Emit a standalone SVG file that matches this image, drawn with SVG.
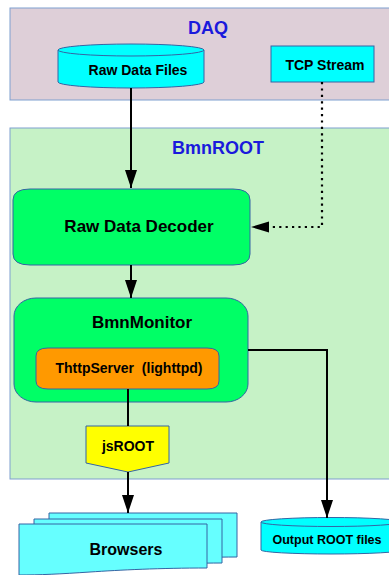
<svg xmlns="http://www.w3.org/2000/svg" width="389" height="575" viewBox="0 0 389 575">
<style>
text{font-family:"Liberation Sans",Arial,sans-serif;font-weight:bold;text-anchor:middle;dominant-baseline:central;fill:#000}
.title{fill:#1a1adc;font-size:18px}
.nb{stroke:#3465a4;stroke-width:1}
.ln{stroke:#000;stroke-width:2;fill:none}
.dot{stroke:#000;stroke-width:2.2;fill:none;stroke-dasharray:2.2 4.2}
</style>
<defs>
<marker id="ah" viewBox="0 0 18 12" refX="18" refY="6" markerWidth="18" markerHeight="12" markerUnits="userSpaceOnUse" orient="auto">
<path d="M0,0 L18,6 L0,12 Z" fill="#000"/>
</marker>
</defs>
<g id="daq">
<rect x="10" y="8" width="390" height="92" fill="#decfd8" stroke="#7f9fcf" stroke-width="1"/>
<text class="title" x="208" y="28">DAQ</text>
</g>
<g id="bmnroot">
<rect x="10" y="128" width="390" height="351" fill="#c6f2c6" stroke="#7f9fcf" stroke-width="1"/>
<text class="title" x="218" y="148">BmnROOT</text>
</g>
<g id="rawfiles">
<path class="nb" d="M58,50 V82 A73,6 0 0 0 204,82 V50" fill="#00ffff"/>
<ellipse class="nb" cx="131" cy="50" rx="73" ry="6" fill="#00ffff"/>
<text x="138" y="70" font-size="14">Raw Data Files</text>
</g>
<g id="tcp">
<rect class="nb" x="271" y="46" width="103" height="36" fill="#00ffff"/>
<text x="325" y="65" font-size="14">TCP Stream</text>
</g>
<g id="decoder">
<path class="nb" d="M30,189 H233 Q250,189 250,200 V254 Q250,265 233,265 H30 Q13,265 13,254 V200 Q13,189 30,189 Z" fill="#00ff66"/>
<text x="139" y="226" font-size="17">Raw Data Decoder</text>
</g>
<g id="monitor">
<rect class="nb" x="14" y="298" width="234" height="104" rx="22" ry="18" fill="#00ff66"/>
<text x="142" y="322" font-size="17">BmnMonitor</text>
</g>
<g id="thttp">
<path class="nb" d="M48,348 H207 Q219,348 219,356 V381 Q219,389 207,389 H48 Q36,389 36,381 V356 Q36,348 48,348 Z" fill="#ff9900"/>
<text x="129" y="368" font-size="14" style="white-space:pre">ThttpServer  (lighttpd)</text>
</g>
<g id="jsroot">
<path class="nb" d="M86,426 H169 V463 L128,472 L86,463 Z" fill="#ffff00"/>
<text x="128" y="446" font-size="14">jsROOT</text>
</g>
<g id="browsers">
<path class="nb" d="M49,513 H237 V557 C190,557 150,560 120,562 C90,564 70,565 49,565 Z" fill="#66ffff"/>
<path class="nb" d="M34,519 H222 V563 C175,563 135,566 105,568 C75,570 55,571 34,571 Z" fill="#66ffff"/>
<path class="nb" d="M19,524 H207 V568 C160,568 120,570 90,572 C60,574 40,575 19,575 Z" fill="#66ffff"/>
<text x="126" y="549" font-size="16">Browsers</text>
</g>
<g id="output">
<path class="nb" d="M261,522 V550 A70,4 0 0 0 401,550 V522" fill="#00ffff"/>
<ellipse class="nb" cx="331" cy="522" rx="70" ry="4.5" fill="#00ffff"/>
<text x="327" y="540" font-size="12.5">Output ROOT files</text>
</g>
<g id="connectors">
<path class="ln" d="M131,88 V188" marker-end="url(#ah)"/>
<path class="dot" d="M322,82 V227 H260"/>
<path d="M251,227 L269,221.5 L269,232.5 Z" fill="#000"/>
<path class="ln" d="M131,265 V298" marker-end="url(#ah)"/>
<path class="ln" d="M128,389 V426"/>
<path class="ln" d="M128,472 V513" marker-end="url(#ah)"/>
<path class="ln" d="M248,350 H327 V518" marker-end="url(#ah)"/>
</g>
</svg>
